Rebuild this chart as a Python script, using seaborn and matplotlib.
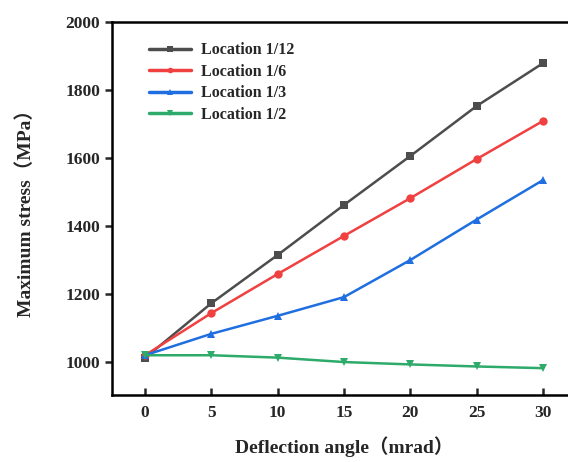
import matplotlib
matplotlib.use("Agg")
import matplotlib.pyplot as plt
import seaborn as sns
import pandas as pd

angles = [0, 5, 10, 15, 20, 25, 30]
loc_1_12 = [1012, 1173, 1315, 1462, 1606, 1753, 1879]
loc_1_6 = [1020, 1144, 1259, 1371, 1482, 1597, 1709]
loc_1_3 = [1020, 1083, 1136, 1191, 1300, 1419, 1535]
loc_1_2 = [1020, 1020, 1013, 1000, 993, 987, 982]
series_names = ["Location 1/12", "Location 1/6", "Location 1/3", "Location 1/2"]
x_ticks = [0, 5, 10, 15, 20, 25, 30]
y_ticks = [1000, 1200, 1400, 1600, 1800, 2000]

rows = []
for name, vals in zip(series_names, [loc_1_12, loc_1_6, loc_1_3, loc_1_2]):
    for a, v in zip(angles, vals):
        rows.append({"angle": a, "stress": v, "series": name})
df = pd.DataFrame(rows)

sns.set_style("ticks")
plt.rcParams['font.family'] = ['Liberation Serif', 'Noto Sans CJK SC']
plt.rcParams['font.weight'] = 'bold'

palette = {"Location 1/12": "#4d4d4d", "Location 1/6": "#f04040",
           "Location 1/3": "#1f6fe0", "Location 1/2": "#2eaa6a"}
markers = {"Location 1/12": "s", "Location 1/6": "o",
           "Location 1/3": "^", "Location 1/2": "v"}

fig = plt.figure(figsize=(5.68, 4.62), dpi=100)
ax = fig.add_axes([0.197, 0.145, 0.817, 0.807])
sns.lineplot(data=df, x="angle", y="stress", hue="series", style="series",
             palette=palette, markers=markers, dashes=False, ax=ax,
             linewidth=1.8, markersize=6, markeredgewidth=0, hue_order=series_names,
             style_order=series_names)

ax.set_xlim(-2.5, 32.5)
ax.set_ylim(903, 2000)
ax.set_xticks(x_ticks)
ax.set_yticks(y_ticks)
for s in ax.spines.values():
    s.set_linewidth(1.8)
    s.set_color("black")
ax.tick_params(axis='x', direction='in', length=5, width=1.8, labelsize=12.5, pad=7)
ax.tick_params(axis='y', direction='out', length=5, width=1.8, labelsize=12.5)
for lab in ax.get_xticklabels() + ax.get_yticklabels():
    lab.set_fontweight('bold')

ax.set_xlabel("Deflection angle（mrad）", fontsize=14, fontweight='bold', labelpad=11)
ax.set_ylabel("Maximum stress（MPa）", fontsize=14, fontweight='bold', labelpad=22)

leg = ax.legend(loc='upper left', bbox_to_anchor=(0.05, 0.985), frameon=False,
                prop={'weight': 'bold', 'size': 11.5}, handlelength=2.6,
                labelspacing=0.35, handletextpad=0.6)
for h in leg.legend_handles:
    h.set_markersize(4)
    h.set_linewidth(2.5)

fig.savefig("out.png", dpi=100)
